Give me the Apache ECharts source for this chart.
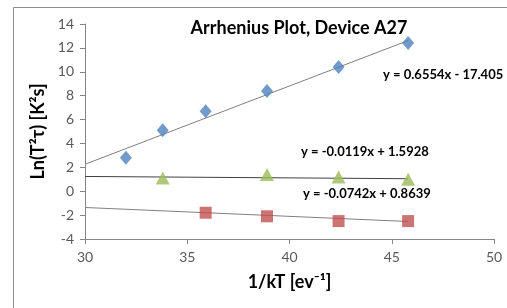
<!DOCTYPE html>
<html>
<head>
<meta charset="utf-8">
<script src="https://cdn.jsdelivr.net/npm/echarts@6/dist/echarts.min.js"></script>
<style>
  html, body { margin: 0; padding: 0; background: #fff; }
  #chart { width: 507px; height: 308px; }
</style>
</head>
<body>
<div id="chart"></div>
<script>
// data
var blueX = [32.0, 33.8, 35.9, 38.9, 42.4, 45.8]
var blueY = [2.8, 5.1, 6.7, 8.4, 10.4, 12.4]
var greenX = [33.8, 38.9, 42.4, 45.8]
var greenY = [1.1, 1.4, 1.2, 1.0]
var redX = [35.9, 38.9, 42.4, 45.8]
var redY = [-1.8, -2.1, -2.5, -2.5]
// trendline coefficients (slope, intercept), as printed on the chart
var blueFit = [0.6554, -17.405]
var greenFit = [-0.0119, 1.5928]
var redFit = [-0.0742, 0.8639]
var fitRange = [30, 45.8]
var equations = ['y = 0.6554x - 17.405', 'y = -0.0119x + 1.5928', 'y = -0.0742x + 0.8639']

function pairs (xs, ys) {
    var out = []
    for (var i = 0; i < xs.length; i++) out.push([xs[i], ys[i]])
    return out
}
function fitLine (c) {
    return fitRange.map(function (x) { return [x, c[0] * x + c[1]] })
}

var myChart = echarts.init(document.getElementById('chart'))
var fontFam = 'Lato, "Open Sans", sans-serif'
var axisCol = '#868686'

myChart.setOption({
    animation: false,
    title: {
        text: 'Arrhenius Plot, Device A27',
        left: 294, top: 14, textAlign: 'center',
        textStyle: { fontFamily: fontFam, fontSize: 18, fontWeight: 'bold', color: '#000' }
    },
    grid: { left: 85, right: 13, top: 24, bottom: 69 },
    xAxis: {
        type: 'value', min: 30, max: 50, interval: 5,
        name: '1/kT [ev⁻¹]', nameLocation: 'middle', nameGap: 34,
        nameTextStyle: { fontFamily: fontFam, fontSize: 18, fontWeight: 'bold', color: '#000' },
        axisLine: { onZero: false, lineStyle: { color: axisCol } },
        axisTick: { length: 5, lineStyle: { color: axisCol } },
        axisLabel: { fontFamily: fontFam, fontSize: 14, color: '#595959', margin: 11 },
        splitLine: { show: false }
    },
    yAxis: {
        type: 'value', min: -4, max: 14, interval: 2,
        name: 'Ln(T²τ) [K²s]', nameLocation: 'middle', nameGap: 31,
        nameTextStyle: { fontFamily: fontFam, fontSize: 18, fontWeight: 'bold', color: '#000' },
        axisLine: { show: true, onZero: false, lineStyle: { color: axisCol } },
        axisTick: { show: true, length: 5, lineStyle: { color: axisCol } },
        axisLabel: { fontFamily: fontFam, fontSize: 14, color: '#595959', margin: 11 },
        splitLine: { show: false }
    },
    graphic: [
        { type: 'rect', shape: { x: 13.5, y: 7.5, width: 600, height: 400 },
          style: { fill: 'none', stroke: '#8c8c8c', lineWidth: 1 }, silent: true },
        { type: 'text', left: 383, top: 68,
          style: { text: equations[0], font: 'bold 13px ' + fontFam, fill: '#000' } },
        { type: 'text', left: 301, top: 145,
          style: { text: equations[1], font: 'bold 13px ' + fontFam, fill: '#000' } },
        { type: 'text', left: 303, top: 187,
          style: { text: equations[2], font: 'bold 13px ' + fontFam, fill: '#000' } }
    ],
    series: [
        { type: 'line', data: fitLine(blueFit), symbol: 'none', lineStyle: { color: '#7f7f7f', width: 1 }, z: 1 },
        { type: 'line', data: fitLine(greenFit), symbol: 'none', lineStyle: { color: '#404040', width: 1 }, z: 1 },
        { type: 'line', data: fitLine(redFit), symbol: 'none', lineStyle: { color: '#7f7f7f', width: 1 }, z: 1 },
        { type: 'scatter', data: pairs(blueX, blueY), symbol: 'diamond', symbolSize: [12, 14],
          itemStyle: { color: '#4F81BD' }, z: 3 },
        { type: 'scatter', data: pairs(greenX, greenY), symbol: 'triangle', symbolSize: [14, 13],
          itemStyle: { color: '#9BBB59' }, z: 3 },
        { type: 'scatter', data: pairs(redX, redY), symbol: 'rect', symbolSize: 12,
          itemStyle: { color: '#C0504D' }, z: 3 }
    ]
})
</script>
</body>
</html>
